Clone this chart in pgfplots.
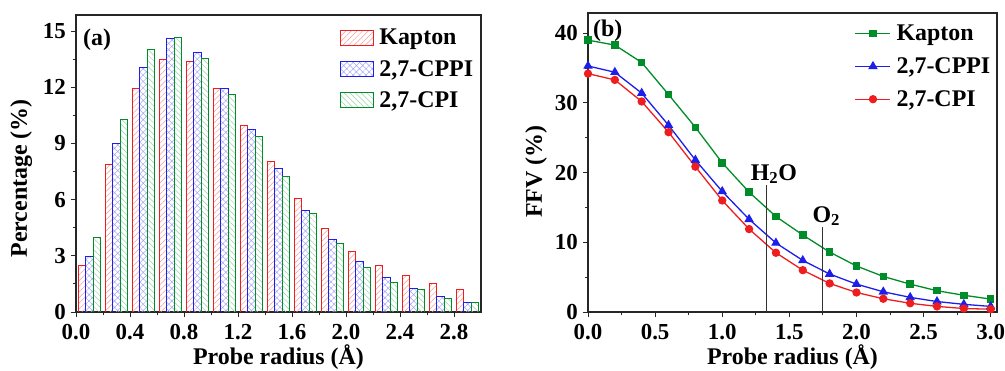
\documentclass[border=0pt]{standalone}
\usepackage{pgfplots}
\pgfplotsset{compat=1.18}
\usepackage{fontspec}
\setmainfont{Liberation Serif}
\usetikzlibrary{patterns.meta}
\definecolor{cred}{RGB}{238,30,30}
\definecolor{cblue}{RGB}{30,30,235}
\definecolor{cgreen}{RGB}{0,140,40}

\pgfplotstableread{
x   y
0.1 2.49
0.3 7.90
0.5 11.95
0.7 13.46
0.9 13.39
1.1 11.95
1.3 9.98
1.5 8.04
1.7 6.09
1.9 4.44
2.1 3.21
2.3 2.49
2.5 1.93
2.7 1.53
2.9 1.22
}\histkapton
\pgfplotstableread{
x   y
0.1 2.95
0.3 9.02
0.5 13.08
0.7 14.61
0.9 13.86
1.1 11.95
1.3 9.73
1.5 7.65
1.7 5.43
1.9 3.87
2.1 2.72
2.3 1.86
2.5 1.24
2.7 0.82
2.9 0.53
}\histcppi
\pgfplotstableread{
x   y
0.1 3.99
0.3 10.30
0.5 14.01
0.7 14.65
0.9 13.53
1.1 11.63
1.3 9.36
1.5 7.26
1.7 5.27
1.9 3.66
2.1 2.38
2.3 1.56
2.5 1.22
2.7 0.73
2.9 0.50
}\histcpi

\pgfplotstableread{
x   y
0.0 39.0
0.2 38.3
0.4 35.8
0.6 31.2
0.8 26.5
1.0 21.4
1.2 17.2
1.4 13.7
1.6 11.05
1.8 8.6
2.0 6.6
2.2 5.1
2.4 4.0
2.6 3.05
2.8 2.4
3.0 1.85
}\ffvkapton
\pgfplotstableread{
x   y
0.0 35.3
0.2 34.4
0.4 31.4
0.6 26.8
0.8 21.8
1.0 17.3
1.2 13.3
1.4 9.9
1.6 7.4
1.8 5.45
2.0 4.0
2.2 2.9
2.4 2.1
2.6 1.5
2.8 1.1
3.0 0.8
}\ffvcppi
\pgfplotstableread{
x   y
0.0 34.2
0.2 33.3
0.4 30.2
0.6 25.8
0.8 20.85
1.0 16.0
1.2 11.9
1.4 8.5
1.6 6.0
1.8 4.1
2.0 2.8
2.2 1.9
2.4 1.25
2.6 0.8
2.8 0.5
3.0 0.4
}\ffvcpi

\begin{document}
\begin{tikzpicture}
\useasboundingbox (0bp,0bp) rectangle (1005bp,371bp);
\pgfplotsset{
  every axis/.append style={
    scale only axis,
    axis line style={line width=1.1bp, black!85},
    tick style={line width=0.9bp, black!85},
    major tick length=5bp, minor tick length=3bp,
    tick align=outside,
    xtick pos=left, ytick pos=left,
    /pgf/number format/assume math mode=true,
    tick label style={font=\bfseries\fontsize{23}{25}\selectfont, text=black},
    xticklabel style={inner sep=2bp, yshift=-5bp},
    yticklabel style={inner sep=2bp, xshift=-3bp},
    legend cell align=left,
    legend style={font=\bfseries\fontsize{24}{26}\selectfont, draw=none, fill=none,
      row sep=11bp, nodes={inner sep=1.5bp},
      /tikz/every odd column/.append style={column sep=4bp}},
  },
}
\begin{axis}[
  at={(76bp,59bp)}, anchor=south west, width=405bp, height=297bp,
  xmin=0, xmax=3.0, ymin=0, ymax=15.86,
  xtick={0,0.4,0.8,1.2,1.6,2.0,2.4,2.8}, minor x tick num=1,
  ytick={0,3,6,9,12,15}, minor y tick num=1,
  xticklabel style={/pgf/number format/.cd, fixed, fixed zerofill, precision=1},
  xlabel={Probe radius (Å)}, ylabel={Percentage (\%)},
  every axis x label/.style={at={(axis description cs:0.5,-0.152)}, anchor=center,
    font=\bfseries\fontsize{24}{26}\selectfont},
  every axis y label/.style={at={(axis description cs:-0.135,0.45)}, anchor=center, rotate=90,
    font=\bfseries\fontsize{24}{26}\selectfont},
  ybar, bar width=7.4bp,
  legend style={at={(0.992,0.965)}, anchor=north east},
  legend image code/.code={\draw[#1, line width=0.9bp] (0bp,-7.5bp) rectangle (33bp,7.5bp);},
]
\addplot[draw=cred, line width=0.9bp, bar shift=-7.4bp,
  pattern={Lines[angle=45,distance=4bp,line width=0.5bp]}, pattern color=cred!45]
  table[x=x,y=y] {\histkapton};
\addlegendentry{Kapton}
\addplot[draw=cblue, line width=0.9bp, bar shift=0bp,
  pattern={Hatch[angle=45,distance=4.5bp,line width=0.5bp]}, pattern color=cblue!40]
  table[x=x,y=y] {\histcppi};
\addlegendentry{2,7-CPPI}
\addplot[draw=cgreen, line width=0.9bp, bar shift=7.4bp,
  pattern={Lines[angle=-45,distance=4bp,line width=0.5bp]}, pattern color=cgreen!40]
  table[x=x,y=y] {\histcpi};
\addlegendentry{2,7-CPI}
\node[anchor=north west, font=\bfseries\fontsize{24}{26}\selectfont, inner sep=0pt]
  at (axis description cs:0.017,0.955) {(a)};
\end{axis}

\begin{axis}[
  at={(588bp,59bp)}, anchor=south west, width=409bp, height=299bp,
  xmin=0, xmax=3.047, ymin=0, ymax=42.9,
  xtick={0,0.5,1.0,1.5,2.0,2.5,3.0}, minor x tick num=1,
  ytick={0,10,20,30,40}, minor y tick num=1,
  xticklabel style={/pgf/number format/.cd, fixed, fixed zerofill, precision=1},
  xlabel={Probe radius (Å)}, ylabel={FFV (\%)},
  every axis x label/.style={at={(axis description cs:0.5,-0.152)}, anchor=center,
    font=\bfseries\fontsize{24}{26}\selectfont},
  every axis y label/.style={at={(axis description cs:-0.127,0.47)}, anchor=center, rotate=90,
    font=\bfseries\fontsize{24}{26}\selectfont},
  legend style={at={(0.995,0.972)}, anchor=north east, row sep=12.5bp},
  legend image code/.code={\draw[mark repeat=2,mark phase=2,#1] plot coordinates {(0bp,0bp) (17.5bp,0bp) (35bp,0bp)};},
]
\addplot[cgreen, line width=1.3bp, mark=square*, mark size=3.1bp] table[x=x,y=y] {\ffvkapton};
\addlegendentry{Kapton}
\addplot[cblue, line width=1.3bp, mark=triangle*, mark size=4.2bp] table[x=x,y=y] {\ffvcppi};
\addlegendentry{2,7-CPPI}
\addplot[cred, line width=1.3bp, mark=*, mark size=3.5bp] table[x=x,y=y] {\ffvcpi};
\addlegendentry{2,7-CPI}
\addplot[black!80, line width=1bp, forget plot] coordinates {(1.333,0) (1.333,18.2)};
\addplot[black!80, line width=1bp, forget plot] coordinates {(1.75,0) (1.75,12.2)};
\node[anchor=south, font=\bfseries\fontsize{24}{26}\selectfont, inner sep=1bp]
  at (axis cs:1.385,18.2) {H\textsubscript{2}O};
\node[anchor=south, font=\bfseries\fontsize{24}{26}\selectfont, inner sep=1bp]
  at (axis cs:1.775,12.2) {O\textsubscript{2}};
\node[anchor=north west, font=\bfseries\fontsize{24}{26}\selectfont, inner sep=0pt]
  at (axis description cs:0.012,0.978) {(b)};
\end{axis}
\end{tikzpicture}
\end{document}
